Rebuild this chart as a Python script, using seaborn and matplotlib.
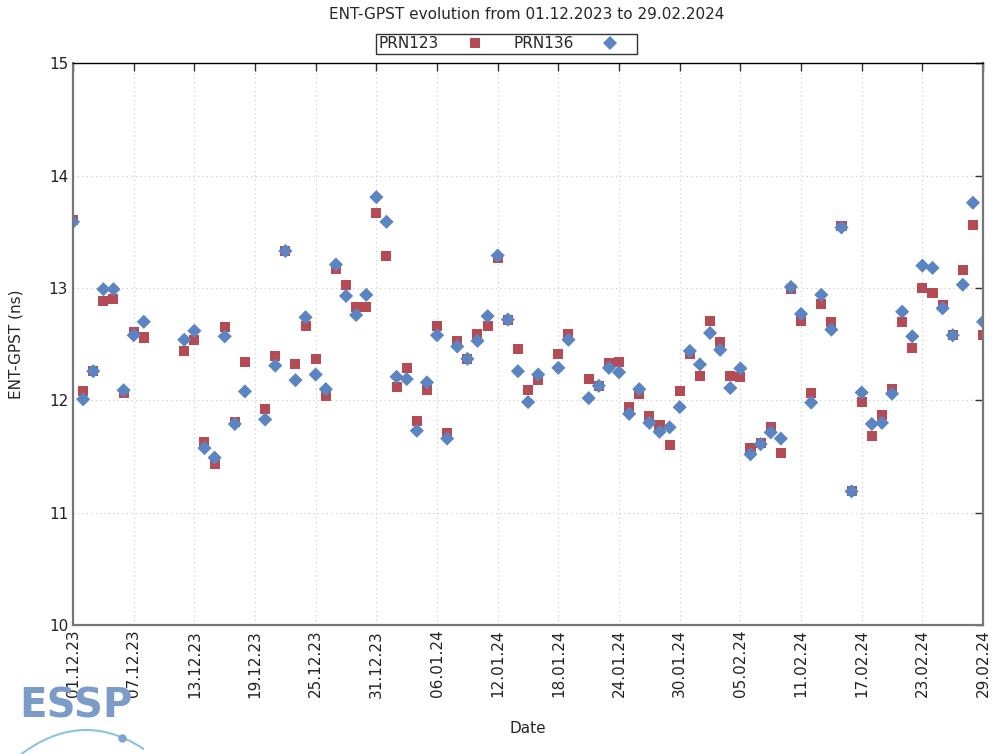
import numpy as np
import pandas as pd
import seaborn as sns
import matplotlib.pyplot as plt
import matplotlib.dates as mdates

sns.set_style('white')
plt.rcParams['font.family'] = ['DejaVu Sans']

# days since 01.12.2023 that have a measurement
day_offset = [0, 1, 2, 3, 4, 5, 6, 7,
              11, 12, 13, 14, 15, 16, 17,
              19, 20, 21, 22, 23, 24, 25, 26, 27, 28, 29, 30, 31, 32, 33,
              34, 35, 36, 37, 38, 39, 40, 41, 42, 43, 44, 45, 46,
              48, 49,
              51, 52, 53, 54, 55, 56, 57, 58, 59, 60, 61, 62, 63, 64, 65,
              66, 67, 68, 69, 70, 71, 72, 73, 74, 75, 76, 77, 78, 79, 80,
              81, 82, 83, 84, 85, 86, 87, 88, 89, 90]

prn123 = [13.61, 12.08, 12.26, 12.885, 12.90, 12.07, 12.61, 12.56,
          12.44, 12.54, 11.63, 11.435, 12.65, 11.81, 12.34,
          11.92, 12.395, 13.33, 12.32, 12.66, 12.37, 12.04, 13.17, 13.025, 12.83, 12.83, 13.67, 13.29, 12.12, 12.29,
          11.82, 12.09, 12.66, 11.71, 12.53, 12.37, 12.59, 12.66, 13.27, 12.72, 12.46, 12.09, 12.18,
          12.41, 12.59,
          12.19, 12.13, 12.33, 12.34, 11.94, 12.06, 11.86, 11.78, 11.60, 12.08, 12.41, 12.22, 12.71, 12.52, 12.22,
          12.21, 11.58, 11.62, 11.76, 11.535, 12.99, 12.71, 12.07, 12.86, 12.70, 13.55, 11.19, 11.985, 11.68, 11.87,
          12.10, 12.70, 12.47, 13.00, 12.96, 12.85, 12.58, 13.16, 13.56, 12.58]

prn136 = [13.59, 12.01, 12.26, 12.99, 12.99, 12.09, 12.58, 12.70,
          12.54, 12.62, 11.575, 11.49, 12.57, 11.79, 12.08,
          11.83, 12.31, 13.33, 12.18, 12.74, 12.23, 12.10, 13.21, 12.93, 12.76, 12.94, 13.81, 13.59, 12.21, 12.19,
          11.73, 12.16, 12.58, 11.66, 12.48, 12.37, 12.53, 12.75, 13.29, 12.72, 12.26, 11.985, 12.23,
          12.29, 12.54,
          12.02, 12.13, 12.29, 12.25, 11.88, 12.10, 11.80, 11.72, 11.76, 11.94, 12.44, 12.32, 12.60, 12.45, 12.11,
          12.285, 11.52, 11.61, 11.715, 11.66, 13.01, 12.77, 11.98, 12.94, 12.63, 13.54, 11.19, 12.07, 11.79, 11.80,
          12.06, 12.79, 12.57, 13.20, 13.18, 12.82, 12.58, 13.03, 13.76, 12.70]

start = pd.Timestamp('2023-12-01')
end = pd.Timestamp('2024-02-29')
dates = start + pd.to_timedelta(day_offset, unit='D')

df = pd.concat([
    pd.DataFrame({'date': dates, 'value': prn123, 'series': 'PRN123'}),
    pd.DataFrame({'date': dates, 'value': prn136, 'series': 'PRN136'}),
])

colors = {'PRN123': '#b54c55', 'PRN136': '#5b85c2'}
markers = {'PRN123': 's', 'PRN136': 'D'}

fig = plt.figure(figsize=(9.95, 7.54), dpi=100)
ax = fig.add_axes([0.0734, 0.1711, 0.9146, 0.7447])

sns.scatterplot(data=df, x='date', y='value', hue='series', style='series',
                palette=colors, markers=markers, s=52, linewidth=0, ax=ax)

handles, labels = ax.get_legend_handles_labels()
ax.get_legend().remove()
keep = [(h, l) for h, l in zip(handles, labels) if l in colors]
fig.legend([h for h, l in keep], [l for h, l in keep], loc='center',
           bbox_to_anchor=(0.509, 0.942), ncol=2, markerfirst=False,
           frameon=True, fancybox=False, edgecolor='black', fontsize=11,
           borderpad=0.15, handletextpad=0.75, columnspacing=0.95,
           handlelength=3.2, borderaxespad=0)
fig.legends[0].get_frame().set_linewidth(1.0)

ax.set_xlim(start, end)
ax.set_ylim(10, 15)
ax.set_xticks(pd.date_range(start, end, freq='6D'))
ax.xaxis.set_major_formatter(mdates.DateFormatter('%d.%m.%y'))
ax.set_yticks([10, 11, 12, 13, 14, 15])

ax.grid(True, color='#c8c8c8', linestyle=(0, (1, 3)), linewidth=0.8)
ax.tick_params(axis='both', direction='in', length=6, width=1, color='#333333',
               top=True, right=True, labelsize=11, labelcolor='#222222')
plt.setp(ax.get_xticklabels(), rotation=90)
for side in ['left', 'right', 'bottom']:
    ax.spines[side].set_color('#777777')
    ax.spines[side].set_linewidth(1.6)
ax.spines['top'].set_color('black')
ax.spines['top'].set_linewidth(1.0)

ax.set_xlabel('Date', fontsize=11, labelpad=17)
ax.set_ylabel('ENT-GPST (ns)', fontsize=11, labelpad=18)
fig.text(0.5295, 0.981, 'ENT-GPST evolution from 01.12.2023 to 29.02.2024',
         ha='center', va='center', fontsize=11)

# ESSP logo
fig.text(0.019, 0.036, 'ESSP', color='#7b9cc8', fontsize=29,
         fontweight='bold', ha='left', va='bottom')
logo = fig.add_axes([0.015, 0.0, 0.13, 0.035])
t = np.linspace(0, 1, 50)
logo.plot(t, 1 - (2 * t - 1.1) ** 2, color='#8cc4de', linewidth=1.5)
logo.plot([0.83], [1 - (2 * 0.83 - 1.1) ** 2], 'o', color='#7aa5cf', markersize=5)
logo.set_xlim(0, 1)
logo.set_ylim(0, 1.1)
logo.axis('off')

fig.savefig('out.png', dpi=100)
